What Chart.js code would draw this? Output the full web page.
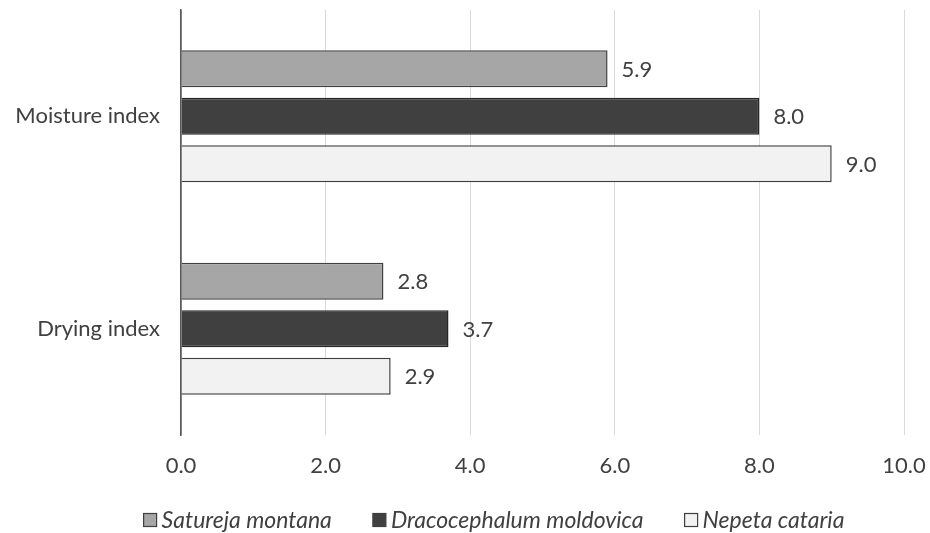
<!DOCTYPE html>
<html>
<head>
<meta charset="utf-8">
<script src="https://cdn.jsdelivr.net/npm/chart.js@4/dist/chart.umd.min.js"></script>
<style>
  html, body { margin: 0; padding: 0; background: #ffffff; }
  #wrap { width: 930px; height: 533px; }
</style>
</head>
<body>
<div id="wrap"><canvas id="c" width="930" height="533"></canvas></div>
<script>
// Categories and series values
const categories = ['Moisture index', 'Drying index'];
const saturejaMontana = [5.9, 2.8];
const dracocephalumMoldovica = [8.0, 3.7];
const nepetaCataria = [9.0, 2.9];
const xTicks = [0, 2, 4, 6, 8, 10];

const FONT = 'Lato, "Open Sans", sans-serif';
const TEXT = '#404040';

// Writes each bar's value just past its end
const valueLabels = {
  id: 'valueLabels',
  afterDatasetsDraw(chart) {
    const ctx = chart.ctx;
    ctx.save();
    ctx.font = '22px ' + FONT;
    ctx.fillStyle = TEXT;
    ctx.textAlign = 'left';
    ctx.textBaseline = 'middle';
    chart.data.datasets.forEach((ds, i) => {
      chart.getDatasetMeta(i).data.forEach((bar, j) => {
        ctx.fillText(ds.data[j].toFixed(1), bar.x + 14, bar.y + 1);
      });
    });
    ctx.restore();
  }
};

// Single-row legend under the axis: swatch, italic name, then the next item
const bottomLegend = {
  id: 'bottomLegend',
  afterDraw(chart) {
    const ctx = chart.ctx;
    const box = 13, textGap = 5, itemGap = 41;
    const cy = 520;
    ctx.save();
    ctx.font = 'italic 23px ' + FONT;
    ctx.textBaseline = 'middle';
    ctx.textAlign = 'left';
    const items = chart.data.datasets.map(ds => ({
      text: ds.label, fill: ds.backgroundColor,
      w: ctx.measureText(ds.label).width
    }));
    const total = items.reduce((s, it) => s + box + textGap + it.w, 0) + itemGap * (items.length - 1);
    let x = 494 - total / 2;
    items.forEach(it => {
      ctx.fillStyle = it.fill;
      ctx.fillRect(x, cy - box / 2, box, box);
      ctx.strokeStyle = '#404040';
      ctx.lineWidth = 1.2;
      ctx.strokeRect(x, cy - box / 2, box, box);
      ctx.fillStyle = TEXT;
      ctx.fillText(it.text, x + box + textGap, cy + 1);
      x += box + textGap + it.w + itemGap;
    });
    ctx.restore();
  }
};

new Chart(document.getElementById('c'), {
  type: 'bar',
  data: {
    labels: categories,
    datasets: [
      { label: 'Satureja montana', data: saturejaMontana, backgroundColor: '#a6a6a6', borderColor: '#404040', borderWidth: 1.5 },
      { label: 'Dracocephalum moldovica', data: dracocephalumMoldovica, backgroundColor: '#404040', borderColor: '#262626', borderWidth: 1.5 },
      { label: 'Nepeta cataria', data: nepetaCataria, backgroundColor: '#f2f2f2', borderColor: '#404040', borderWidth: 1.5 }
    ]
  },
  options: {
    indexAxis: 'y',
    responsive: false,
    animation: false,
    devicePixelRatio: 1,
    categoryPercentage: 0.67,
    barPercentage: 0.78,
    layout: { padding: { top: 10, right: 26, left: 0, bottom: 0 } },
    scales: {
      x: {
        min: 0,
        max: 10,
        afterBuildTicks(scale) { scale.ticks = xTicks.map(v => ({ value: v })); },
        border: { display: false },
        grid: {
          drawTicks: false,
          color: c => (c.tick && c.tick.value === 0) ? '#595959' : '#d9d9d9',
          lineWidth: c => (c.tick && c.tick.value === 0) ? 1.5 : 1
        },
        ticks: {
          padding: 18,
          color: TEXT,
          font: { family: FONT, size: 22 },
          callback: v => Number(v).toFixed(1)
        },
        afterFit(scale) {
          scale.height = 98;
          scale.paddingLeft = 0;
          scale.paddingRight = 0;
        }
      },
      y: {
        grid: { display: false, drawTicks: false },
        border: { display: true, color: '#595959', width: 1.5 },
        ticks: {
          padding: 21,
          color: TEXT,
          font: { family: FONT, size: 22 }
        },
        afterFit(scale) {
          scale.width = 181;
          scale.paddingTop = 0;
          scale.paddingBottom = 0;
        }
      }
    },
    plugins: {
      legend: { display: false },
      tooltip: { enabled: false }
    }
  },
  plugins: [valueLabels, bottomLegend]
});
</script>
</body>
</html>
